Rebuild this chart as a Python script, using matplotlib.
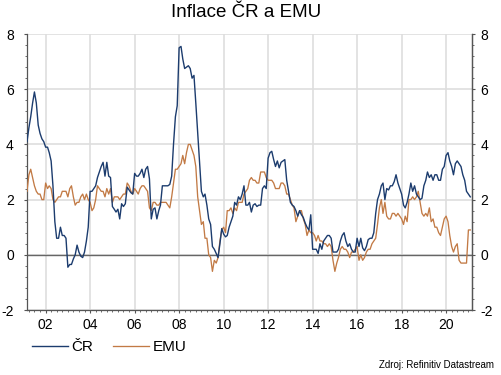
import numpy as np
import pandas as pd
import matplotlib
matplotlib.use("Agg")
import matplotlib.pyplot as plt
import matplotlib.dates as mdates
from matplotlib.ticker import MultipleLocator, FixedLocator

plt.rcParams['font.family'] = ['Liberation Sans', 'DejaVu Sans']
plt.rcParams['axes.unicode_minus'] = False

# monthly data, March 2001 .. February 2021
start_month = "2001-03-01"
cz = [
    4.1, 4.6, 5.0, 5.5, 5.9, 5.5, 4.7, 4.4, 4.2, 4.1,                # 2001
    3.9, 3.9, 3.7, 3.4, 2.5, 1.2, 0.6, 0.6, 1.0, 0.7, 0.7, 0.6,      # 2002
    -0.45, -0.35, -0.35, -0.15, 0.0, 0.35, 0.1, -0.05, -0.1, 0.1, 0.5, 1.0,  # 2003
    2.3, 2.3, 2.4, 2.5, 2.8, 3.0, 3.2, 3.35, 2.85, 3.35, 2.85, 2.8,  # 2004
    1.75, 1.65, 1.55, 1.65, 1.3, 1.85, 1.75, 1.85, 2.45, 2.35, 2.25, 2.2,  # 2005
    2.95, 2.85, 2.85, 2.95, 3.1, 2.8, 3.1, 3.2, 2.75, 1.3, 1.65, 1.7,  # 2006
    1.3, 1.6, 1.8, 2.5, 2.5, 2.5, 2.5, 2.55, 2.85, 4.0, 5.0, 5.4,    # 2007
    7.5, 7.55, 7.1, 6.75, 6.8, 6.85, 6.75, 6.4, 6.5, 5.5, 4.4, 3.4,  # 2008
    2.3, 2.1, 2.2, 1.8, 1.3, 1.1, 0.3, 0.2, 0.05, -0.1, 0.4, 0.95,   # 2009
    0.75, 0.65, 0.7, 1.0, 1.2, 1.4, 1.9, 1.8, 2.1, 2.0, 2.2, 2.5,    # 2010
    1.8, 1.8, 1.9, 1.55, 1.8, 1.85, 1.75, 1.8, 1.8, 2.4, 2.5, 2.4,   # 2011
    3.5, 3.7, 3.75, 3.45, 3.2, 3.4, 3.15, 3.35, 3.4, 3.45, 2.7, 2.3, # 2012
    1.9, 1.8, 1.75, 1.6, 1.4, 1.6, 1.45, 1.35, 1.15, 1.0, 0.9, 1.45, # 2013
    0.2, 0.2, 0.2, 0.05, 0.4, 0.2, 0.5, 0.6, 0.7, 0.7, 0.6, 0.1,     # 2014
    0.1, 0.1, 0.2, 0.5, 0.7, 0.8, 0.5, 0.3, 0.4, 0.2, 0.1, 0.1,      # 2015
    0.6, 0.3, 0.6, 0.25, 0.15, 0.3, 0.55, 0.6, 0.6, 0.8, 1.5, 2.0,   # 2016
    2.2, 2.5, 2.6, 2.0, 2.4, 2.35, 2.5, 2.5, 2.65, 2.9, 2.6, 2.4,    # 2017
    2.2, 1.8, 1.7, 1.9, 2.2, 2.6, 2.3, 2.5, 2.2, 2.1, 2.0, 2.05,     # 2018
    2.5, 2.7, 3.0, 2.8, 2.9, 2.7, 2.9, 2.9, 2.7, 2.7, 3.1, 3.2,      # 2019
    3.6, 3.7, 3.4, 3.2, 2.9, 3.3, 3.4, 3.3, 3.2, 2.9, 2.7, 2.3,      # 2020
    2.2, 2.1,                                                        # 2021
]
emu = [
    2.3, 2.9, 3.1, 2.8, 2.5, 2.3, 2.2, 2.2, 2.0, 2.0,                # 2001
    2.6, 2.4, 2.5, 2.4, 2.0, 1.9, 2.0, 2.1, 2.1, 2.3, 2.3, 2.3,      # 2002
    2.1, 2.4, 2.5, 2.1, 1.8, 1.9, 1.9, 2.1, 2.2, 2.0, 2.2, 2.0,      # 2003
    1.9, 1.6, 1.7, 2.0, 2.5, 2.4, 2.3, 2.3, 2.1, 2.4, 2.2, 2.4,      # 2004
    1.9, 2.1, 2.1, 2.1, 2.0, 2.1, 2.2, 2.2, 2.6, 2.5, 2.3, 2.2,      # 2005
    2.4, 2.3, 2.2, 2.4, 2.5, 2.5, 2.4, 2.3, 1.7, 1.6, 1.9, 1.9,      # 2006
    1.8, 1.8, 1.9, 1.9, 1.9, 1.9, 1.8, 1.7, 2.1, 2.6, 3.1, 3.1,      # 2007
    3.2, 3.3, 3.6, 3.3, 3.7, 4.0, 4.0, 3.8, 3.6, 3.2, 2.1, 1.6,      # 2008
    1.1, 1.2, 0.6, 0.6, 0.0, -0.1, -0.6, -0.2, -0.3, -0.1, 0.5, 0.9, # 2009
    1.0, 0.8, 1.6, 1.6, 1.7, 1.5, 1.7, 1.6, 1.9, 1.9, 1.9, 2.2,      # 2010
    2.3, 2.4, 2.7, 2.8, 2.7, 2.7, 2.6, 2.6, 3.0, 3.0, 3.0, 2.8,      # 2011
    2.7, 2.7, 2.7, 2.6, 2.4, 2.4, 2.4, 2.6, 2.6, 2.5, 2.2, 2.2,      # 2012
    2.0, 1.8, 1.7, 1.2, 1.4, 1.6, 1.6, 1.3, 1.1, 0.7, 0.9, 0.8,      # 2013
    0.8, 0.7, 0.5, 0.7, 0.5, 0.5, 0.4, 0.4, 0.3, 0.4, 0.3, -0.2,     # 2014
    -0.6, -0.3, -0.1, 0.2, 0.3, 0.2, 0.2, 0.1, -0.1, 0.1, 0.1, 0.2,  # 2015
    0.3, -0.2, 0.0, -0.2, -0.1, 0.1, 0.2, 0.2, 0.4, 0.5, 0.6, 1.1,   # 2016
    1.7, 2.0, 1.5, 1.9, 1.4, 1.3, 1.3, 1.5, 1.5, 1.4, 1.5, 1.4,      # 2017
    1.3, 1.1, 1.4, 1.2, 2.0, 2.0, 2.1, 2.0, 2.1, 2.3, 1.9, 1.5,      # 2018
    1.4, 1.5, 1.4, 1.7, 1.2, 1.3, 1.0, 1.0, 0.8, 0.7, 1.0, 1.3,      # 2019
    1.4, 1.2, 0.7, 0.3, 0.1, 0.3, 0.4, -0.2, -0.3, -0.3, -0.3, -0.3, # 2020
    0.9, 0.9,                                                        # 2021
]
series_labels = ["ČR", "EMU"]
title = "Inflace ČR a EMU"
source = "Zdroj: Refinitiv Datastream"
y_ticks = [-2, 0, 2, 4, 6, 8]

dates = pd.date_range(start_month, periods=len(cz), freq="MS")

W, H = 502, 375
fig = plt.figure(figsize=(W / 100, H / 100), dpi=100)
L, R, T, B = 27, 472, 34, 310
ax = fig.add_axes([L / W, 1 - B / H, (R - L) / W, (B - T) / H])

c_cz = "#1c3c6e"
c_emu = "#c27a45"
grid_c = "#dedede"
axis_c = "#555555"

ax.plot(dates, cz, color=c_cz, lw=1.0, label=series_labels[0], zorder=4)
ax.plot(dates, emu, color=c_emu, lw=0.95, label=series_labels[1], zorder=3)

ax.set_xlim(pd.Timestamp("2001-03-01"), pd.Timestamp("2021-03-01"))
ax.set_ylim(-2, 8)

ax.xaxis.set_major_locator(mdates.YearLocator(2))
ax.xaxis.set_major_formatter(mdates.DateFormatter("%y"))
ax.xaxis.set_minor_locator(mdates.MonthLocator(bymonth=[1, 4, 7, 10]))
ax.yaxis.set_major_locator(FixedLocator(y_ticks))
ax.yaxis.set_minor_locator(MultipleLocator(0.4))

ax.grid(True, which="major", axis="both", color=grid_c, lw=1.2, zorder=0)
ax.set_axisbelow(True)
ax.axhline(0, color="#666666", lw=1.0, zorder=2)

for s in ["top"]:
    ax.spines[s].set_visible(False)
for s in ["left", "right", "bottom"]:
    ax.spines[s].set_color(axis_c)
    ax.spines[s].set_linewidth(0.9)

ax.tick_params(axis="x", which="major", direction="out", length=2.5, width=0.8,
               color=axis_c, labelsize=10, pad=3.5)
ax.tick_params(axis="x", which="minor", direction="out", length=1.5, width=0.6, color=axis_c)
ax.tick_params(axis="y", which="major", direction="out", length=2.5, width=0.8,
               color=axis_c, labelsize=10, pad=7.0)
ax.tick_params(axis="y", which="minor", direction="out", length=1.5, width=0.6, color=axis_c)

ax2 = ax.twinx()
ax2.set_ylim(ax.get_ylim())
ax2.yaxis.set_major_locator(FixedLocator(y_ticks))
ax2.yaxis.set_minor_locator(MultipleLocator(0.4))
for s in ["top", "left", "bottom"]:
    ax2.spines[s].set_visible(False)
ax2.spines["right"].set_color(axis_c)
ax2.spines["right"].set_linewidth(0.9)
ax2.tick_params(axis="y", which="major", direction="out", length=2.5, width=0.8,
                color=axis_c, labelsize=10, pad=3.5)
ax2.tick_params(axis="y", which="minor", direction="out", length=1.5, width=0.6, color=axis_c)

fig.text(246 / W, 1 - 17 / H, title, ha="center", va="baseline", fontsize=13.5)

h, l = ax.get_legend_handles_labels()
fig.legend(h, l, loc="center left", bbox_to_anchor=(32 / W, 1 - 347 / H), ncol=2,
           frameon=False, fontsize=11, handlelength=2.35, handletextpad=0.25,
           columnspacing=1.3, borderpad=0, borderaxespad=0)

fig.text(494 / W, 1 - 365 / H, source, ha="right", va="center", fontsize=7)

fig.savefig("out.png", dpi=100)
